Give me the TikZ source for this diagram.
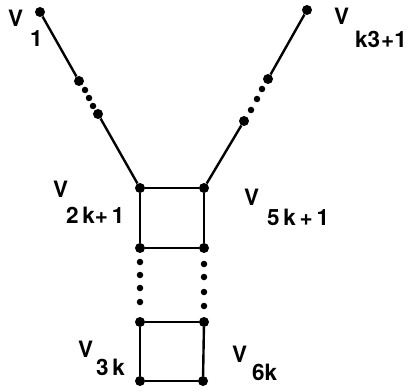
\documentclass[tikz,border=0pt]{standalone}
\usepackage{fontspec}
\setmainfont{TeX Gyre Heros}
\begin{document}
\begin{tikzpicture}[x=1pt,y=-1pt,
  vtx/.style={circle,fill=black,inner sep=0pt,minimum size=10pt},
  sdot/.style={circle,fill=black,inner sep=0pt,minimum size=6.5pt},
  edge/.style={line width=2.4pt},
  lbl/.style={anchor=base west,inner sep=0pt,font=\fontsize{22.5}{24}\selectfont\bfseries}]
\useasboundingbox (0,0) rectangle (411,390);
% left branch
\node[vtx] (a1) at (40,12) {};
\node[vtx] (a2) at (79,81) {};
\node[sdot] (ad1) at (85,90) {};
\node[sdot] (ad2) at (89,98) {};
\node[sdot] (ad3) at (93,106) {};
\node[vtx] (a3) at (98,114) {};
% right branch
\node[vtx] (b1) at (307,10) {};
\node[vtx] (b2) at (268,79) {};
\node[sdot] (bd1) at (262,89) {};
\node[sdot] (bd2) at (257,99) {};
\node[sdot] (bd3) at (251,110) {};
\node[vtx] (b3) at (244,121) {};
% ladder
\node[vtx] (s1) at (140,188) {};
\node[vtx] (s2) at (204,188) {};
\node[vtx] (s3) at (140,248) {};
\node[vtx] (s4) at (204,248) {};
\node[sdot] (l1) at (140,262) {};
\node[sdot] (l2) at (140,275) {};
\node[sdot] (l3) at (140,288) {};
\node[sdot] (l4) at (140,302) {};
\node[sdot] (r1) at (204,264) {};
\node[sdot] (r2) at (204,277) {};
\node[sdot] (r3) at (204,292) {};
\node[sdot] (r4) at (204,306) {};
\node[vtx] (s5) at (140,322) {};
\node[vtx] (s6) at (204,322) {};
\node[vtx] (s7) at (140,381) {};
\node[vtx] (s8) at (203,381) {};
% edges
\draw[edge] (a1) -- (a2);
\draw[edge] (a3) -- (s1);
\draw[edge] (b1) -- (b2);
\draw[edge] (b3) -- (s2);
\draw[edge] (s1) -- (s2);
\draw[edge] (s1) -- (s3);
\draw[edge] (s2) -- (s4);
\draw[edge] (s3) -- (s4);
\draw[edge] (s5) -- (s6);
\draw[edge] (s5) -- (s7);
\draw[edge] (s6) -- (s8);
\draw[edge] (s7) -- (s8);
% labels
\node[lbl] (t1) at (8,27) {V};
\node[lbl] (t1s) at (30,47) {1};
\node[lbl] (t2) at (334,25) {V};
\node[lbl] (t2s) at (355,48) {k3\kern1pt+1};
\node[lbl] (t3) at (53,197) {V};
\node[lbl] (t3s) at (66,223) {2\,k+\,1};
\node[lbl] (t4) at (244,205) {V};
\node[lbl] (t4s) at (267,225) {5\,k\,+\,1};
\node[lbl] (t5) at (78,357) {V};
\node[lbl] (t5s) at (96,375) {3\,k};
\node[lbl] (t6) at (232,362) {V};
\node[lbl] (t6s) at (252,380) {6k};
\end{tikzpicture}
\end{document}
